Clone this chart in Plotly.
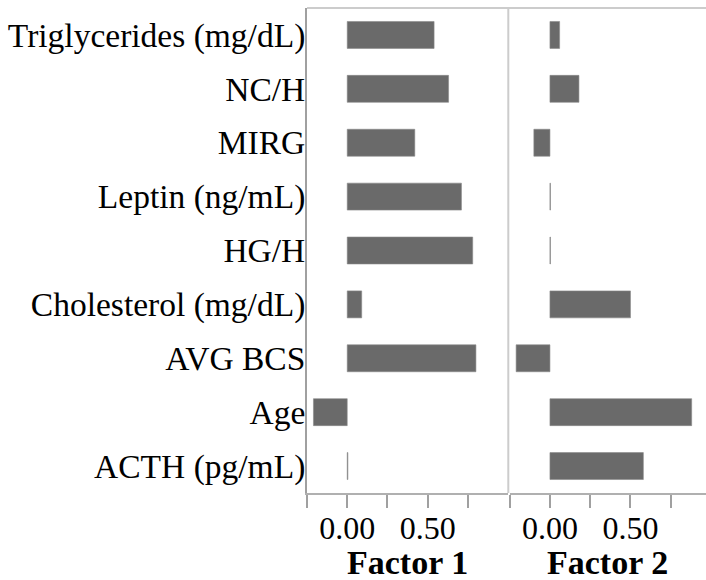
import plotly.graph_objects as go
from plotly.subplots import make_subplots

categories = ["Triglycerides (mg/dL)", "NC/H", "MIRG", "Leptin (ng/mL)", "HG/H",
              "Cholesterol (mg/dL)", "AVG BCS", "Age", "ACTH (pg/mL)"]
factor1 = [0.54, 0.63, 0.42, 0.71, 0.78, 0.09, 0.80, -0.21, 0.004]
factor2 = [0.06, 0.18, -0.10, 0.003, 0.003, 0.50, -0.21, 0.88, 0.58]
tick_vals = [-0.25, 0.0, 0.25, 0.5, 0.75]
tick_text = ["", "0.00", "", "0.50", ""]
panel_titles = ["Factor 1", "Factor 2"]

BAR = "#6a6a6a"
FONT = "Liberation Serif"

fig = make_subplots(rows=1, cols=2, shared_yaxes=True, horizontal_spacing=0.004,
                    column_widths=[0.504, 0.492])

for i, vals in enumerate([factor1, factor2]):
    fig.add_trace(go.Bar(x=vals, y=categories, orientation="h",
                         marker=dict(color=BAR, line=dict(color="#8a8a8a", width=0.6)),
                         width=0.5, showlegend=False), row=1, col=i + 1)

fig.update_xaxes(tickvals=tick_vals, ticktext=tick_text, ticks="outside", ticklen=13,
                 tickcolor="#a0a0a0", tickwidth=2, showgrid=False, zeroline=False,
                 showline=True, linecolor="#b0b0b0", linewidth=2, ticklabelstandoff=-7,
                 tickfont=dict(family=FONT, size=32, color="black"))
fig.update_xaxes(range=[-0.25, 1.0], row=1, col=1)
fig.update_xaxes(range=[-0.25, 0.969], row=1, col=2)

fig.update_yaxes(categoryorder="array", categoryarray=categories[::-1],
                 showgrid=False, zeroline=False, ticks="", ticklabelstandoff=-7,
                 tickfont=dict(family=FONT, size=33.5, color="black"))
fig.update_yaxes(showline=True, linecolor="#a0a0a0", linewidth=2, row=1, col=1)

# panel titles
for i, t in enumerate(panel_titles):
    fig.add_annotation(text="<b>" + t + "</b>", xref="x%s domain" % ("" if i == 0 else "2"),
                       yref="paper", x=0.5, y=0, yanchor="middle", yshift=-69, showarrow=False,
                       font=dict(family=FONT, size=34, color="black"))

# panel borders
fig.add_shape(type="line", xref="paper", yref="paper", x0=0, x1=1, y0=1, y1=1,
              line=dict(color="#cccccc", width=2))
fig.add_shape(type="line", xref="paper", yref="paper", x0=0.5045, x1=0.5045, y0=0, y1=1,
              line=dict(color="#cccccc", width=2))

fig.update_layout(width=706, height=580, margin=dict(l=307, r=0, t=8, b=87),
                  paper_bgcolor="white", plot_bgcolor="white", bargap=0.5)

fig.write_html("out.html")
